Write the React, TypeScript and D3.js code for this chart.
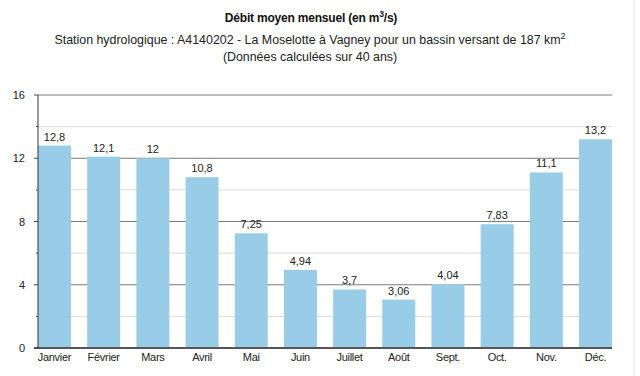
import React from "react";
import * as d3 from "d3";

const months = ["Janvier", "Février", "Mars", "Avril", "Mai", "Juin", "Juillet", "Août", "Sept.", "Oct.", "Nov.", "Déc."];
const values = [12.8, 12.1, 12, 10.8, 7.25, 4.94, 3.7, 3.06, 4.04, 7.83, 11.1, 13.2];
const labels = ["12,8", "12,1", "12", "10,8", "7,25", "4,94", "3,7", "3,06", "4,04", "7,83", "11,1", "13,2"];
const majorTicks = [0, 4, 8, 12, 16];
const minorTicks = [2, 6, 10, 14];

export default function App() {
  const W = 640, H = 376;
  const left = 38, right = 612, top = 95, bottom = 348;
  const x = d3.scaleBand<string>().domain(months).range([left, right]).paddingInner(0.33).paddingOuter(0);
  const y = d3.scaleLinear().domain([0, 16]).range([bottom, top]);
  const font = "'Liberation Sans', Arial, sans-serif";
  return (
    <svg width={W} height={H} style={{ position: "absolute", left: 0, top: 0, background: "#fff" }} fontFamily={font}>
      <rect x={0} y={0} width={W} height={H} fill="#fff" />
      <line x1={634} x2={634} y1={0} y2={H} stroke="#e4e4e4" />
      <text x={311} y={22} textAnchor="middle" fontSize={12} fontWeight="bold" fill="#111" letterSpacing={-0.2}>
        Débit moyen mensuel (en m<tspan dy={-5} fontSize={8.5}>3</tspan><tspan dy={5}>/s)</tspan>
      </text>
      <text x={310} y={44} textAnchor="middle" fontSize={12.4} fill="#222">
        Station hydrologique : A4140202 - La Moselotte à Vagney pour un bassin versant de 187 km<tspan dy={-5} fontSize={9}>2</tspan>
      </text>
      <text x={310} y={61} textAnchor="middle" fontSize={12.4} fill="#222">(Données calculées sur 40 ans)</text>
      {minorTicks.map((t) => (
        <g key={"mi" + t}>
          <line x1={left} x2={right} y1={y(t)} y2={y(t)} stroke="#dcdcdc" />
          <line x1={left - 2} x2={left} y1={y(t)} y2={y(t)} stroke="#555" />
        </g>
      ))}
      {majorTicks.map((t) => (
        <g key={"ma" + t}>
          <line x1={left} x2={right} y1={y(t)} y2={y(t)} stroke="#7a7a7a" />
          <line x1={left - 4} x2={left} y1={y(t)} y2={y(t)} stroke="#444" />
          <text x={25} y={y(t) + 4} textAnchor="end" fontSize={11} fill="#222">{t}</text>
        </g>
      ))}
      {months.map((m, i) => (
        <g key={m}>
          <rect x={x(m)} y={y(values[i])} width={x.bandwidth()} height={bottom - y(values[i])} fill="#99cce6" />
          <text x={(x(m) as number) + x.bandwidth() / 2} y={y(values[i]) - 5} textAnchor="middle" fontSize={11} fill="#222">{labels[i]}</text>
          <text x={(x(m) as number) + x.bandwidth() / 2} y={361} textAnchor="middle" fontSize={11} fill="#222" letterSpacing={-0.3}>{m}</text>
        </g>
      ))}
      <line x1={left} x2={left} y1={top} y2={bottom} stroke="#333" />
      <line x1={left - 4} x2={right} y1={bottom} y2={bottom} stroke="#333" strokeWidth={1.5} />
    </svg>
  );
}
